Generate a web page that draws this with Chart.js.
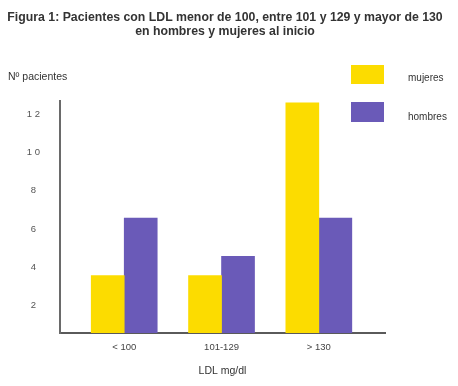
<!DOCTYPE html>
<html>
<head>
<meta charset="utf-8">
<script src="https://cdn.jsdelivr.net/npm/chart.js@4/dist/chart.umd.min.js"></script>
<style>
  html, body { margin: 0; padding: 0; background: #ffffff; }
  #c { display: block; }
</style>
</head>
<body>
<canvas id="c" width="458" height="386"></canvas>
<script>
// ---- data ----
const categories = ['< 100', '101-129', '> 130'];
const mujeres = [3, 3, 12];
const hombres = [6, 4, 6];
const seriesNames = ['mujeres', 'hombres'];
const yTickValues = [2, 4, 6, 8, 10, 12];
const yTickLabels = ['2', '4', '6', '8', '1 0', '1 2'];
const titleLines = [
  'Figura 1: Pacientes con LDL menor de 100, entre 101 y 129 y mayor de 130',
  'en hombres y mujeres al inicio'
];
const yAxisTitle = 'Nº pacientes';
const xAxisTitle = 'LDL mg/dl';

const FONT = "'Liberation Sans', Arial, Helvetica, sans-serif";
Chart.defaults.font.family = FONT;

const toPoints = arr => arr.map((v, i) => ({ x: i + 1, y: v }));

const legendAndLabel = {
  id: 'legendAndLabel',
  afterDraw(chart) {
    const ctx = chart.ctx;
    ctx.save();
    // y axis caption
    ctx.fillStyle = '#333';
    ctx.font = '10.5px ' + FONT;
    ctx.textAlign = 'left';
    ctx.textBaseline = 'middle';
    ctx.fillText(yAxisTitle, 8, 77);
    // legend
    const boxes = [{ y: 65, h: 19, ty: 78 }, { y: 102, h: 20, ty: 117 }];
    chart.data.datasets.forEach((ds, i) => {
      const b = boxes[i];
      ctx.fillStyle = ds.backgroundColor;
      ctx.fillRect(351, b.y, 33, b.h);
      ctx.fillStyle = '#333';
      ctx.font = '10px ' + FONT;
      ctx.fillText(ds.label, 408, b.ty);
    });
    ctx.restore();
  }
};

new Chart(document.getElementById('c'), {
  type: 'bar',
  data: {
    datasets: [
      { label: seriesNames[0], data: toPoints(mujeres), backgroundColor: '#FCDC00', borderWidth: 0, barThickness: 33 },
      { label: seriesNames[1], data: toPoints(hombres), backgroundColor: '#6A5AB8', borderWidth: 0, barThickness: 33 }
    ]
  },
  options: {
    responsive: false,
    devicePixelRatio: 1,
    animation: false,
    layout: { padding: { left: 0, right: 8, top: 0, bottom: 0 } },
    plugins: {
      legend: { display: false },
      tooltip: { enabled: false },
      title: {
        display: true,
        text: titleLines,
        color: '#333',
        font: { size: 12.3, weight: 'bold', lineHeight: '14px' },
        padding: { top: 11, bottom: 62 }
      }
    },
    scales: {
      x: {
        type: 'linear',
        min: 0.34,
        max: 3.68,
        offset: false,
        grid: { display: false, drawTicks: false },
        border: { display: true, color: '#5a5a5a', width: 2 },
        ticks: {
          stepSize: 1,
          includeBounds: false,
          autoSkip: false,
          maxRotation: 0,
          padding: 9,
          color: '#444',
          font: { size: 9.5 },
          callback: v => (Number.isInteger(v) && categories[v - 1]) ? categories[v - 1] : ''
        },
        title: {
          display: true,
          text: xAxisTitle,
          color: '#333',
          font: { size: 10.5 },
          padding: { top: 0, bottom: 9 }
        },
        afterFit(s) { s.height = 53; }
      },
      y: {
        min: 0,
        max: 12.1,
        grid: { display: false, drawTicks: false },
        border: { display: true, color: '#6a6a6a', width: 2 },
        ticks: {
          stepSize: 2,
          includeBounds: false,
          crossAlign: 'center',
          padding: 20,
          labelOffset: 11,
          color: '#555',
          font: { size: 9.5 },
          callback: v => {
            const i = yTickValues.indexOf(v);
            return i >= 0 ? yTickLabels[i] : '';
          }
        },
        afterFit(s) { s.width = 60; }
      },
      yRight: {
        type: 'linear',
        position: 'right',
        display: true,
        grid: { display: false, drawTicks: false },
        border: { display: false },
        ticks: { display: false },
        afterFit(s) { s.width = 65; }
      }
    }
  },
  plugins: [legendAndLabel]
});
</script>
</body>
</html>
